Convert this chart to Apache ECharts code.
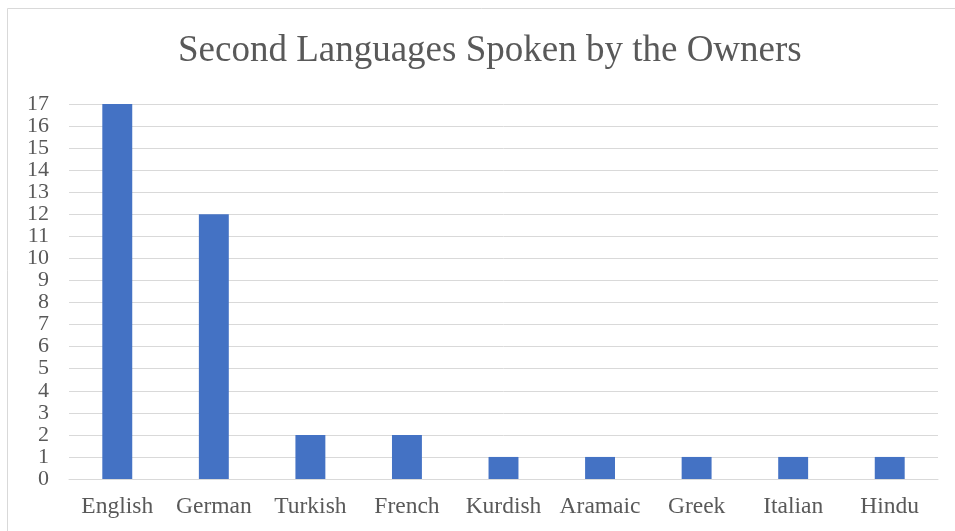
<!DOCTYPE html>
<html>
<head>
<meta charset="utf-8">
<script src="https://cdn.jsdelivr.net/npm/echarts@6/dist/echarts.min.js"></script>
<style>
  html, body { margin: 0; padding: 0; background: #fff; }
  #chart { width: 955px; height: 531px; }
</style>
</head>
<body>
<div id="chart"></div>
<script>
// Languages and the number of owners who speak each one as a second language
const languages = ['English', 'German', 'Turkish', 'French', 'Kurdish', 'Aramaic', 'Greek', 'Italian', 'Hindu'];
const speakers = [17, 12, 2, 2, 1, 1, 1, 1, 1];
const titleText = 'Second Languages Spoken by the Owners';

const serif = '"Liberation Serif", "Times New Roman", serif';
const textColor = '#595959';

const chart = echarts.init(document.getElementById('chart'));
chart.setOption({
  animation: false,
  backgroundColor: '#ffffff',
  graphic: [{
    type: 'rect',
    shape: { x: 7.5, y: 8.5, width: 960, height: 540 },
    style: { fill: 'none', stroke: '#d9d9d9', lineWidth: 1 },
    silent: true
  }],
  title: {
    text: titleText,
    left: 173,
    top: 28,
    textStyle: { fontFamily: serif, fontSize: 37, fontWeight: 'normal', color: textColor }
  },
  grid: { left: 69, right: 17, top: 104, bottom: 52, containLabel: false },
  xAxis: {
    type: 'category',
    data: languages,
    axisLine: { show: true, lineStyle: { color: '#d9d9d9', width: 1 } },
    axisTick: { show: false },
    axisLabel: { fontFamily: serif, fontSize: 23.5, color: textColor, margin: 16, interval: 0 }
  },
  yAxis: {
    type: 'value',
    min: 0,
    max: 17,
    interval: 1,
    axisLine: { show: false },
    axisTick: { show: false },
    axisLabel: {
      fontFamily: serif, fontSize: 22, color: textColor, margin: 20,
      showMinLabel: true, showMaxLabel: true
    },
    splitLine: { lineStyle: { color: '#d9d9d9', width: 1 } }
  },
  series: [{
    type: 'bar',
    data: speakers,
    barWidth: '31%',
    itemStyle: { color: '#4472C4' }
  }]
});
</script>
</body>
</html>
